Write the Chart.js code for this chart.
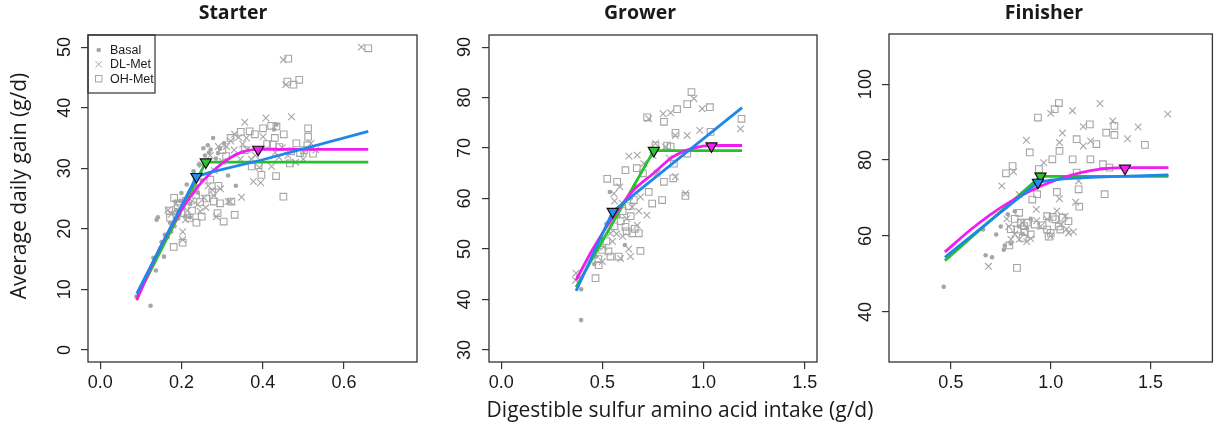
<!DOCTYPE html>
<html><head><meta charset="utf-8">
<script src="https://cdn.jsdelivr.net/npm/chart.js@4.4.1/dist/chart.umd.min.js"></script>
<style>
html,body{margin:0;padding:0;background:#fff;width:1220px;height:429px;overflow:hidden}
canvas{position:absolute;left:0;top:0}
</style></head><body>
<canvas id="c1" width="1220" height="429"></canvas>
<canvas id="c2" width="1220" height="429"></canvas>
<canvas id="c3" width="1220" height="429"></canvas>
<script>
// ---------- Starter ----------
const starterBasal = [[0.089,8.8],[0.124,7.3],[0.137,13.1],[0.131,15.2],[0.139,21.5],[0.142,21.9],[0.147,16.6],[0.157,15.4],[0.159,19.0],[0.151,17.8],[0.166,18.6],[0.172,21.0],[0.178,22.6],[0.183,20.4],[0.188,23.1],[0.192,21.7],[0.197,24.6],[0.200,25.9],[0.205,23.4],[0.210,22.1],[0.213,27.3],[0.218,25.2],[0.222,24.1],[0.228,26.6],[0.233,28.1],[0.238,27.0],[0.243,30.6],[0.248,29.1],[0.254,33.3],[0.258,32.1],[0.263,30.8],[0.268,32.6],[0.272,33.1],[0.278,35.0],[0.285,31.6],[0.295,33.2],[0.315,28.8],[0.334,27.1],[0.305,34.1],[0.434,37.2],[0.428,36.4],[0.221,21.9],[0.195,22.4],[0.185,24.5],[0.230,29.5],[0.250,28.0],[0.265,33.8],[0.290,32.5],[0.240,26.0],[0.175,19.5]];
const starterDLMet = [[0.643,50.0],[0.451,47.9],[0.457,43.8],[0.471,38.5],[0.408,38.3],[0.356,37.6],[0.377,27.8],[0.348,25.2],[0.203,19.5],[0.203,18.2],[0.167,23.1],[0.175,22.4],[0.186,24.1],[0.215,23.0],[0.226,24.6],[0.236,26.1],[0.246,22.9],[0.256,25.1],[0.266,27.1],[0.276,26.4],[0.286,22.0],[0.296,26.6],[0.315,24.5],[0.281,29.6],[0.301,31.1],[0.311,33.6],[0.321,34.5],[0.331,35.6],[0.341,35.1],[0.351,34.0],[0.362,33.1],[0.372,31.5],[0.382,32.1],[0.392,30.1],[0.401,35.2],[0.422,30.3],[0.431,32.6],[0.448,33.4],[0.462,32.1],[0.481,31.0],[0.501,32.6],[0.519,34.1],[0.531,33.0],[0.251,30.6],[0.271,32.1],[0.291,33.6],[0.320,24.5],[0.395,27.6],[0.240,24.0],[0.260,23.5],[0.280,25.5],[0.330,33.0],[0.345,31.5],[0.360,35.0],[0.440,31.8],[0.500,31.5],[0.210,21.5],[0.190,22.8]];
const starterOHMet = [[0.660,49.8],[0.463,48.1],[0.461,44.3],[0.476,43.8],[0.490,44.6],[0.512,36.6],[0.512,35.2],[0.524,32.4],[0.451,25.3],[0.433,28.7],[0.397,28.9],[0.373,30.3],[0.331,22.3],[0.304,21.2],[0.323,24.5],[0.295,24.2],[0.237,21.0],[0.203,17.7],[0.181,17.0],[0.289,22.6],[0.434,36.9],[0.401,36.6],[0.368,36.1],[0.425,33.9],[0.441,33.5],[0.467,30.8],[0.483,34.1],[0.492,32.5],[0.356,33.0],[0.291,27.1],[0.276,26.0],[0.261,25.0],[0.182,25.1],[0.211,24.6],[0.226,23.0],[0.246,24.4],[0.271,28.1],[0.301,33.0],[0.321,35.0],[0.346,36.0],[0.381,35.6],[0.411,34.0],[0.452,35.6],[0.502,33.0],[0.421,37.0],[0.236,25.6],[0.191,23.4],[0.170,23.0],[0.220,21.8],[0.250,22.0],[0.280,24.5],[0.310,32.0],[0.390,30.5],[0.470,32.8],[0.510,33.8],[0.430,35.0],[0.172,21.8],[0.200,22.6]];
const starterGreen = [[0.09,8.6],[0.26,31.0],[0.66,31.0]];
const starterMagenta = [[0.09,8.2],[0.12,12.9],[0.15,17.2],[0.20,23.1],[0.25,27.7],[0.30,30.8],[0.35,32.7],[0.389,33.1],[0.66,33.1]];
const starterBlue = [[0.09,9.3],[0.237,28.6],[0.27,29.3],[0.40,31.4],[0.66,36.1]];
const starterBreaks = [[0.26,31.0],[0.237,28.6],[0.389,33.1]];
const starterXTicks = [0,0.2,0.4,0.6];
const starterXLabels = ['0.0','0.2','0.4','0.6'];
const starterYTicks = [0,10,20,30,40,50];
const starterYLabels = ['0','10','20','30','40','50'];

// ---------- Grower ----------
const growerBasal = [[0.395,35.9],[0.395,42.0],[0.38,44.5],[0.46,47.0],[0.47,48.5],[0.537,61.3],[0.611,50.8],[0.50,52.0],[0.52,55.0],[0.58,56.5],[0.64,60.0],[0.66,62.5]];
const growerDLMet = [[0.37,45.2],[0.367,43.8],[0.586,62.3],[0.557,61.0],[0.639,48.5],[0.59,48.1],[0.631,68.4],[0.672,68.6],[0.729,75.8],[0.762,70.9],[0.80,76.8],[0.837,77.0],[0.952,79.8],[0.993,77.8],[0.981,73.5],[0.919,72.5],[0.91,61.0],[0.861,64.3],[0.812,70.2],[1.182,73.8],[0.705,66.9],[0.688,60.3],[0.647,58.3],[0.672,54.7],[0.72,56.7],[0.54,53.1],[0.507,50.4],[0.62,56.0],[0.77,65.0],[0.83,68.0],[0.86,72.5],[0.75,68.5],[0.60,59.0],[0.55,51.5],[0.48,50.5],[0.50,47.5],[0.57,53.0],[0.60,52.5],[0.63,50.0],[0.68,57.5],[0.56,59.5]];
const growerOHMet = [[0.466,44.2],[0.482,46.8],[0.524,63.9],[0.573,63.3],[0.614,65.6],[0.688,49.6],[0.647,53.1],[0.68,53.1],[0.721,76.1],[0.804,75.2],[0.869,77.7],[0.919,78.7],[0.94,81.1],[1.031,78.1],[1.187,75.8],[1.034,73.2],[0.861,73.0],[0.82,70.5],[0.837,70.3],[0.919,68.9],[0.729,61.3],[0.746,59.0],[0.795,59.7],[0.804,63.3],[0.762,70.5],[0.853,66.9],[0.655,59.7],[0.614,54.4],[0.557,57.0],[0.54,48.5],[0.499,49.8],[0.70,65.0],[0.67,66.0],[0.63,58.5],[0.59,55.5],[0.52,51.5],[0.91,60.5],[0.85,64.0],[0.48,48.0],[0.53,49.5],[0.56,54.5],[0.60,57.5],[0.64,56.5],[0.66,54.0],[0.62,53.5],[0.58,48.5]];
const growerGreen = [[0.37,42.4],[0.754,69.5],[1.19,69.5]];
const growerMagenta = [[0.37,43.8],[0.45,49.8],[0.55,56.2],[0.65,61.5],[0.75,64.9],[0.85,68.3],[0.95,70.0],[1.04,70.5],[1.19,70.5]];
const growerBlue = [[0.37,41.7],[0.551,57.4],[1.19,78.0]];
const growerBreaks = [[0.754,69.5],[0.551,57.4],[1.039,70.4]];
const growerXTicks = [0,0.5,1.0,1.5];
const growerXLabels = ['0.0','0.5','1.0','1.5'];
const growerYTicks = [30,40,50,60,70,80,90];
const growerYLabels = ['30','40','50','60','70','80','90'];

// ---------- Finisher ----------
const finisherBasal = [[0.464,46.6],[0.674,54.9],[0.706,54.4],[0.727,60.4],[0.765,56.4],[0.77,57.5],[0.785,65.7],[0.661,61.7],[0.80,58.0],[0.82,66.5],[0.84,62.5],[0.86,60.5],[0.88,62.0],[0.90,64.5],[0.75,62.5]];
const finisherDLMet = [[0.688,52.0],[0.755,73.2],[0.814,76.9],[0.878,85.2],[1.0,92.3],[1.109,93.0],[1.247,94.9],[1.311,90.3],[1.586,92.1],[1.438,88.7],[1.385,85.6],[1.163,88.8],[1.059,87.1],[1.044,84.6],[1.163,83.7],[1.125,68.9],[1.114,61.1],[1.072,65.2],[1.031,66.6],[1.044,69.8],[0.928,67.0],[0.842,70.9],[0.842,59.1],[0.90,59.3],[0.801,59.1],[0.982,64.4],[0.965,79.3],[0.86,63.5],[0.95,62.5],[1.08,61.8],[1.20,85.0],[1.14,74.5],[0.78,64.5],[1.0,60.0],[0.82,60.5],[0.88,58.5],[0.93,64.0],[1.05,63.0],[1.09,60.8],[0.79,62.5]];
const finisherOHMet = [[0.831,51.6],[0.936,91.2],[1.020,93.4],[1.041,95.0],[0.895,82.0],[1.008,80.2],[1.044,82.4],[1.110,80.2],[1.130,85.5],[1.199,80.2],[1.196,89.4],[1.229,84.2],[1.278,87.2],[1.319,89.0],[1.319,86.6],[1.472,84.0],[1.270,71.0],[1.140,72.3],[1.143,67.7],[1.031,71.6],[0.932,71.0],[0.793,57.5],[0.776,76.5],[0.809,78.4],[0.842,66.1],[0.834,61.7],[0.866,62.6],[0.900,60.4],[0.982,65.2],[0.982,61.7],[1.023,64.4],[1.000,60.8],[1.048,61.7],[1.089,63.9],[1.130,76.7],[1.262,78.9],[1.294,78.0],[0.908,69.6],[0.941,77.6],[0.85,63.5],[0.87,61.0],[0.96,62.8],[1.01,65.0],[0.82,64.5],[0.86,59.5],[0.88,63.5],[0.92,63.0],[1.04,62.5],[0.99,59.8],[1.06,64.8],[0.80,61.8]];
const finisherGreen = [[0.47,53.5],[0.949,75.7],[1.59,75.7]];
const finisherMagenta = [[0.47,55.8],[0.60,61.7],[0.70,65.7],[0.80,69.1],[0.90,71.9],[1.00,74.2],[1.10,76.0],[1.20,77.2],[1.30,77.86],[1.372,78.0],[1.59,78.0]];
const finisherBlue = [[0.47,54.4],[0.936,74.1],[1.00,74.7],[1.08,75.1],[1.23,75.5],[1.59,76.1]];
const finisherBreaks = [[0.949,75.7],[0.936,74.1],[1.372,77.8]];
const finisherXTicks = [0.5,1.0,1.5];
const finisherXLabels = ['0.5','1.0','1.5'];
const finisherYTicks = [40,60,80,100];
const finisherYLabels = ['40','60','80','100'];

const legendLabels = ['Basal','DL-Met','OH-Met'];
const panelTitles = ['Starter','Grower','Finisher'];
const yAxisTitle = 'Average daily gain (g/d)';
const xAxisTitle = 'Digestible sulfur amino acid intake (g/d)';

// ---------- drawing ----------
const GRAY = '#a6a6a6';
const TXT = '#1a1a1a';
Chart.defaults.font.family = '"Liberation Sans", Arial, sans-serif';
const toXY = a => a.map(p => ({x: p[0], y: p[1]}));

const framePlugin = {
  id: 'frame',
  afterDraw(chart, args, o) {
    const {ctx, chartArea: a} = chart;
    ctx.save();
    ctx.strokeStyle = '#333'; ctx.lineWidth = 1.3;
    ctx.strokeRect(a.left, a.top, a.right - a.left, a.bottom - a.top);
    ctx.fillStyle = TXT;
    ctx.font = 'bold 19.5px "Open Sans", sans-serif';
    ctx.textAlign = 'center'; ctx.textBaseline = 'middle';
    ctx.fillText(o.title, o.titleX, 13);
    if (o.legend) {
      const lw = 67, lh = 58;
      ctx.strokeStyle = '#333'; ctx.lineWidth = 1.2;
      ctx.strokeRect(a.left, a.top, lw, lh);
      const sx = a.left + 10.7, rows = [a.top + 15, a.top + 29.3, a.top + 43.7];
      ctx.fillStyle = GRAY; ctx.strokeStyle = GRAY; ctx.lineWidth = 1;
      ctx.beginPath(); ctx.arc(sx, rows[0], 2.3, 0, Math.PI * 2); ctx.fill();
      ctx.beginPath();
      ctx.moveTo(sx - 3.2, rows[1] - 3.2); ctx.lineTo(sx + 3.2, rows[1] + 3.2);
      ctx.moveTo(sx + 3.2, rows[1] - 3.2); ctx.lineTo(sx - 3.2, rows[1] + 3.2);
      ctx.stroke();
      ctx.strokeRect(sx - 3.2, rows[2] - 3.2, 6.4, 6.4);
      ctx.fillStyle = TXT; ctx.textAlign = 'left';
      ctx.font = '12.5px "Liberation Sans", Arial, sans-serif';
      legendLabels.forEach((t, i) => ctx.fillText(t, a.left + 22, rows[i] + 0.5));
    }
    if (o.yTitle) {
      ctx.save();
      ctx.translate(20, 186); ctx.rotate(-Math.PI / 2);
      ctx.font = '21px "Open Sans", sans-serif'; ctx.textAlign = 'center'; ctx.fillStyle = TXT;
      ctx.fillText(yAxisTitle, 0, 0);
      ctx.restore();
    }
    if (o.xTitle) {
      ctx.font = '21px "Open Sans", sans-serif'; ctx.textAlign = 'center'; ctx.fillStyle = TXT;
      ctx.fillText(xAxisTitle, 680, 411);
    }
    ctx.restore();
  }
};

function panel(id, d) {
  const YW = 55, XH = 50;
  const ds = [
    {type: 'scatter', label: 'Basal', data: toXY(d.basal), pointStyle: 'circle', pointRadius: 2.3, backgroundColor: GRAY, borderColor: GRAY, borderWidth: 0, order: 10},
    {type: 'scatter', label: 'DL-Met', data: toXY(d.dl), pointStyle: 'crossRot', pointRadius: 4.7, backgroundColor: 'rgba(0,0,0,0)', borderColor: GRAY, borderWidth: 1.1, order: 10},
    {type: 'scatter', label: 'OH-Met', data: toXY(d.oh), pointStyle: 'rect', pointRadius: 4.7, backgroundColor: 'rgba(0,0,0,0)', borderColor: GRAY, borderWidth: 1.1, order: 10},
    {type: 'line', label: 'Linear', data: toXY(d.green), pointRadius: 0, borderColor: '#28c028', borderWidth: 2.8, tension: 0, fill: false, order: 5},
    {type: 'line', label: 'Quadratic', data: toXY(d.magenta), pointRadius: 0, borderColor: '#f01cf0', borderWidth: 2.8, cubicInterpolationMode: 'monotone', fill: false, order: 4},
    {type: 'line', label: 'Exponential', data: toXY(d.blue), pointRadius: 0, borderColor: '#1e88ea', borderWidth: 2.8, tension: 0, fill: false, order: 3},
    {type: 'scatter', label: 'Breakpoints', data: toXY(d.breaks), pointStyle: 'triangle', rotation: 180, pointRadius: 6.4, backgroundColor: ['#30c030', '#2090f0', '#f022f0'], borderColor: '#111', borderWidth: 1.2, order: 0}
  ];
  const tickFont = {family: '"Liberation Sans", Arial, sans-serif', size: 18};
  const grid = {display: true, drawOnChartArea: false, drawTicks: true, tickLength: 7, color: '#333', lineWidth: 1.2};
  return new Chart(document.getElementById(id), {
    type: 'scatter',
    data: {datasets: ds},
    options: {
      responsive: false, animation: false, events: [],
      devicePixelRatio: 1,
      layout: {padding: {left: d.area[0] - YW, right: 1220 - d.area[1], top: d.area[2], bottom: 429 - d.area[3] - XH}},
      plugins: {legend: {display: false}, tooltip: {enabled: false},
        frame: {title: d.title, titleX: d.titleX, legend: !!d.legend, yTitle: !!d.yTitle, xTitle: !!d.xTitle}},
      scales: {
        x: {type: 'linear', min: d.xr[0], max: d.xr[1],
          afterBuildTicks: s => { s.ticks = d.xt.map(v => ({value: v})); },
          afterFit: s => { s.height = XH; },
          grid: grid, border: {display: false},
          ticks: {font: tickFont, color: TXT, padding: 3, autoSkip: false, includeBounds: false, maxRotation: 0, minRotation: 0,
            callback: (v, i) => d.xl[i]}},
        y: {type: 'linear', min: d.yr[0], max: d.yr[1],
          afterBuildTicks: s => { s.ticks = d.yt.map(v => ({value: v})); },
          afterFit: s => { s.width = YW; },
          grid: grid, border: {display: false},
          ticks: {font: tickFont, color: TXT, padding: d.yPad, autoSkip: false, includeBounds: false, minRotation: 90, maxRotation: 90, crossAlign: 'center',
            callback: (v, i) => d.yl[i]}}
      }
    },
    plugins: [framePlugin]
  });
}

panel('c1', {basal: starterBasal, dl: starterDLMet, oh: starterOHMet, green: starterGreen, magenta: starterMagenta, blue: starterBlue, breaks: starterBreaks,
  xt: starterXTicks, xl: starterXLabels, yt: starterYTicks, yl: starterYLabels,
  xr: [-0.03, 0.78], yr: [-2, 52], area: [88, 417, 35, 362], yPad: 6,
  title: panelTitles[0], titleX: 233, legend: true, yTitle: true});
panel('c2', {basal: growerBasal, dl: growerDLMet, oh: growerOHMet, green: growerGreen, magenta: growerMagenta, blue: growerBlue, breaks: growerBreaks,
  xt: growerXTicks, xl: growerXLabels, yt: growerYTicks, yl: growerYLabels,
  xr: [-0.06, 1.56], yr: [27.6, 92.4], area: [489, 817, 35, 362], yPad: 7,
  title: panelTitles[1], titleX: 640, xTitle: true});
panel('c3', {basal: finisherBasal, dl: finisherDLMet, oh: finisherOHMet, green: finisherGreen, magenta: finisherMagenta, blue: finisherBlue, breaks: finisherBreaks,
  xt: finisherXTicks, xl: finisherXLabels, yt: finisherYTicks, yl: finisherYLabels,
  xr: [0.19, 1.81], yr: [26.8, 113.2], area: [889, 1216, 34, 362], yPad: 0.5,
  title: panelTitles[2], titleX: 1044});
</script>
</body></html>
